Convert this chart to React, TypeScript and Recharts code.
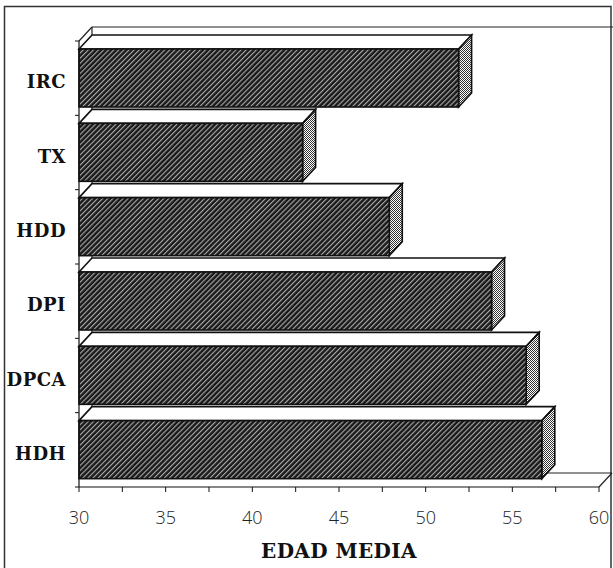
import { BarChart, Bar, XAxis, YAxis } from 'recharts';

// mean age per group, top to bottom
const categories = ['IRC', 'TX', 'HDD', 'DPI', 'DPCA', 'HDH'];
const edadMedia = [51.9, 42.9, 47.9, 53.8, 55.8, 56.7];
const xTicks = [30, 32.5, 35, 37.5, 40, 42.5, 45, 47.5, 50, 52.5, 55, 57.5, 60];

const data = categories.map((name, i) => ({ name, edad: edadMedia[i] }));

const W = 613;
const H = 568;
const MARGIN = { top: 41, right: 14, bottom: 9, left: 0 };
const Y_AXIS_W = 79;
const X_AXIS_H = 72;

// plot box (front plane)
const LEFT = MARGIN.left + Y_AXIS_W;
const RIGHT = W - MARGIN.right;
const TOP = MARGIN.top;
const BOTTOM = H - MARGIN.bottom - X_AXIS_H;
const BAND = (BOTTOM - TOP) / categories.length;

// 3d depth offset
const DX = 13;
const DY = 14;

const serif = '"DejaVu Serif", "Liberation Serif", serif';

function Bar3D(props: any) {
  const { x, y, width, height } = props;
  const r = x + width;
  return (
    <g stroke="#111" strokeWidth={1.6}>
      <polygon points={`${x},${y} ${x + DX},${y - DY} ${r + DX},${y - DY} ${r},${y}`} fill="#fff" />
      <polygon
        points={`${r},${y} ${r + DX},${y - DY} ${r + DX},${y + height - DY} ${r},${y + height}`}
        fill="url(#sideDots)"
      />
      <rect x={x} y={y} width={width} height={height} fill="url(#hatch)" />
    </g>
  );
}

function CategoryTick(props: any) {
  const { y, payload, index } = props;
  const last = index === categories.length - 1;
  return (
    <g>
      <line x1={LEFT - 4} x2={LEFT} y1={y - BAND / 2} y2={y - BAND / 2} stroke="#111" />
      {last && <line x1={LEFT - 4} x2={LEFT} y1={y + BAND / 2} y2={y + BAND / 2} stroke="#111" />}
      <text
        x={LEFT - 13}
        y={y + 4}
        dy="0.35em"
        textAnchor="end"
        fontFamily={serif}
        fontWeight="bold"
        fontSize={18}
        letterSpacing={0.5}
        fill="#111"
      >
        {payload.value}
      </text>
    </g>
  );
}

export default function App() {
  return (
    <div style={{ position: 'absolute', left: 0, top: 0, width: W, height: H, background: '#fff' }}>
      {/* frame, walls and floor behind the bars */}
      <svg width={W} height={H} style={{ position: 'absolute', left: 0, top: 0 }}>
        <defs>
          <pattern id="hatch" patternUnits="userSpaceOnUse" width={3.6} height={3.6} patternTransform="rotate(45)">
            <rect width={3.6} height={3.6} fill="#1a1a1a" />
            <line x1={0.6} y1={0} x2={0.6} y2={3.6} stroke="#c4c4c4" strokeWidth={0.95} />
          </pattern>
          <pattern id="sideDots" patternUnits="userSpaceOnUse" width={2} height={2}>
            <rect width={2} height={2} fill="#fff" />
            <rect width={1} height={1} fill="#333" />
            <rect x={1} y={1} width={1} height={1} fill="#333" />
          </pattern>
        </defs>
        <rect x={4.5} y={6.5} width={606.5} height={575} fill="none" stroke="#333" strokeWidth={1.5} />
        <g stroke="#222" strokeWidth={1.2} fill="none">
          <line x1={LEFT + DX} y1={TOP - DY} x2={W} y2={TOP - DY} />
          <line x1={LEFT} y1={TOP} x2={LEFT + DX} y2={TOP - DY} />
          <line x1={LEFT + DX} y1={TOP - DY} x2={LEFT + DX} y2={BOTTOM - DY} />
          <line x1={LEFT + DX} y1={BOTTOM - DY} x2={RIGHT + DX} y2={BOTTOM - DY} />
          <line x1={RIGHT} y1={BOTTOM} x2={RIGHT + DX} y2={BOTTOM - DY} />
        </g>
      </svg>
      <div style={{ position: 'absolute', left: 0, top: 0 }}>
        <BarChart width={W} height={H} data={data} layout="vertical" margin={MARGIN} barSize={58}>
          <XAxis
            type="number"
            domain={[30, 60]}
            ticks={xTicks}
            interval={0}
            allowDecimals
            tickFormatter={(v: number) => (v % 5 === 0 ? String(v) : '')}
            height={X_AXIS_H}
            tickSize={5}
            tickMargin={19}
            axisLine={{ stroke: '#111', strokeWidth: 1.2 }}
            tickLine={{ stroke: '#111' }}
            tick={{ fill: '#222', fontSize: 18, fontFamily: '"Open Sans", sans-serif', fontWeight: 300 }}
            label={{
              value: 'EDAD MEDIA',
              position: 'insideBottom',
              offset: 1,
              style: { fontFamily: serif, fontWeight: 'bold', fontSize: 20, letterSpacing: 0.4, fill: '#111' },
            }}
          />
          <YAxis
            type="category"
            dataKey="name"
            width={Y_AXIS_W}
            axisLine={{ stroke: '#111', strokeWidth: 1.2 }}
            tickLine={false}
            interval={0}
            tick={<CategoryTick />}
          />
          <Bar dataKey="edad" shape={<Bar3D />} isAnimationActive={false} />
        </BarChart>
      </div>
    </div>
  );
}
